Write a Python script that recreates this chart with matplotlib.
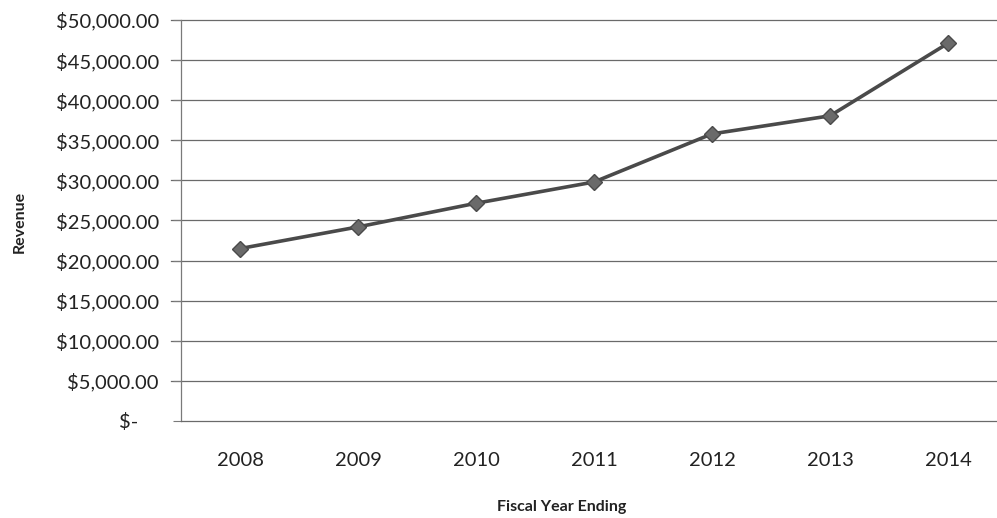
import matplotlib
matplotlib.use("Agg")
import matplotlib.pyplot as plt
from matplotlib.ticker import FuncFormatter

years = ["2008", "2009", "2010", "2011", "2012", "2013", "2014"]
revenue = [21500, 24200, 27150, 29800, 35800, 38050, 47100]
y_ticks = [0, 5000, 10000, 15000, 20000, 25000, 30000, 35000, 40000, 45000, 50000]

plt.rcParams["font.family"] = ["Lato", "DejaVu Sans"]

fig = plt.figure(figsize=(9.97, 5.18), dpi=100)
ax = fig.add_axes([181 / 997, 1 - 421 / 518, 1 - 181 / 997, (421 - 20) / 518])

x = list(range(len(years)))
ax.plot(x, revenue, color="#4a4a4a", lw=2.6, marker="D", markersize=8,
        markerfacecolor="#6a6a6a", markeredgecolor="#4a4a4a", zorder=3)

ax.set_ylim(0, 50000)
ax.set_xlim(-0.5, -0.5 + 816 / 118)
ax.set_yticks(y_ticks)


def money(v, pos):
    if v == 0:
        return "$-    "
    return f"${v:,.2f}"


ax.yaxis.set_major_formatter(FuncFormatter(money))
ax.set_xticks(x)
ax.set_xticklabels(years)

for t in y_ticks[1:]:
    ax.axhline(t, color="#6a6a6a", lw=0.9, zorder=1, xmin=-0.012, clip_on=False)

for side in ("top", "right"):
    ax.spines[side].set_visible(False)
ax.spines["left"].set_color("#7a7a7a")
ax.spines["left"].set_linewidth(0.9)
ax.spines["bottom"].set_color("#6a6a6a")
ax.spines["bottom"].set_linewidth(0.9)

ax.tick_params(axis="y", direction="out", length=6, width=0.8, color="#7a7a7a",
               labelsize=14.5, labelcolor="#222222", pad=10)
ax.tick_params(axis="x", length=0, labelsize=14.5, labelcolor="#222222", pad=22)

ax.set_ylabel("Revenue", fontsize=11.5, fontweight="bold", color="#222222")
ax.yaxis.set_label_coords(-(181 - 27) / 816, (421 - 222) / 401)
ax.set_xlabel("Fiscal Year Ending", fontsize=11.5, fontweight="bold", color="#222222")
ax.xaxis.set_label_coords((562 - 181) / 816, -(500 - 421) / 401)

fig.savefig("out.png", dpi=100)
